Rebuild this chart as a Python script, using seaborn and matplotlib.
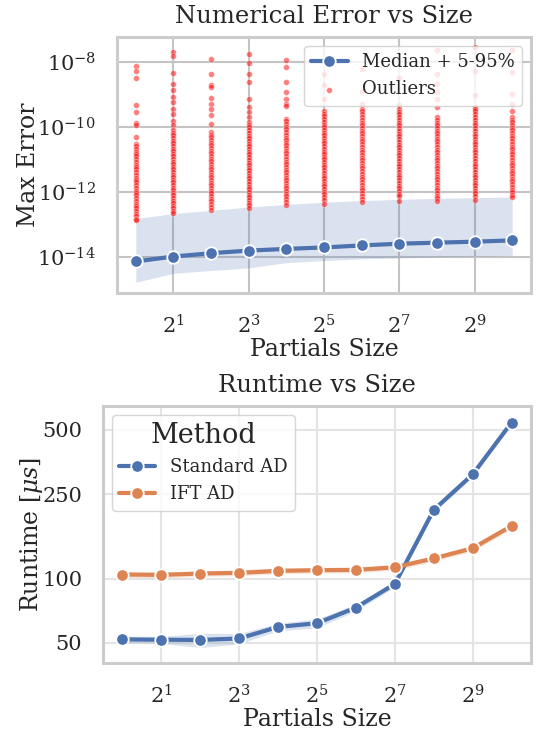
import numpy as np
import pandas as pd
import seaborn as sns
import matplotlib.pyplot as plt
from matplotlib.ticker import NullLocator, ScalarFormatter

# ------------------------------------------------------------
# Data
# ------------------------------------------------------------
sizes = [1, 2, 4, 8, 16, 32, 64, 128, 256, 512, 1024]

# numerical error: median and 5-95% band
err_median = [7.4e-15, 1.05e-14, 1.33e-14, 1.6e-14, 1.8e-14, 2.0e-14,
              2.3e-14, 2.6e-14, 2.8e-14, 3.0e-14, 3.3e-14]
err_p05 = [1.7e-15, 3.2e-15, 3.9e-15, 4.7e-15, 6.8e-15, 7.9e-15,
           8.9e-15, 9.5e-15, 1.02e-14, 1.07e-14, 1.12e-14]
err_p95 = [1.55e-13, 2.2e-13, 2.75e-13, 3.5e-13, 4.2e-13, 4.9e-13,
           5.5e-13, 6.0e-13, 6.5e-13, 6.8e-13, 7.1e-13]

# outliers, log10 of the error, one list per size
out_1 = [-8.12, -8.29, -8.48, -9.33, -9.54, -9.88, -9.95, -10.29,
         -10.51, -10.58, -10.66, -10.75, -10.83, -10.9, -10.98, -11.07, -11.15, -11.22,
         -11.3, -11.39, -11.47, -11.55, -11.62, -11.7, -11.79, -11.87, -11.95, -12.03,
         -12.1, -12.19, -12.27, -12.35, -12.43, -12.5, -12.58, -12.66, -12.74, -12.81, -12.87]
out_2 = [-7.69, -7.82, -8.33, -8.67, -8.85, -9.08, -9.23, -9.44, -9.59, -9.8, -9.95,
         -10.1, -10.17, -10.25, -10.34, -10.42, -10.5, -10.57, -10.66, -10.74, -10.82,
         -10.9, -10.97, -11.06, -11.14, -11.22, -11.3, -11.38, -11.46, -11.54, -11.62,
         -11.7, -11.78, -11.86, -11.94, -12.02, -12.1, -12.18, -12.26, -12.34, -12.42,
         -12.5, -12.58, -12.65]
out_4 = [-7.9, -8.36, -8.72, -8.77, -9.11, -9.28, -9.44, -9.64, -9.9,
         -10.15, -10.23, -10.31, -10.4, -10.48, -10.56, -10.64, -10.72, -10.81, -10.89,
         -10.97, -11.05, -11.13, -11.22, -11.3, -11.38, -11.46, -11.54, -11.63, -11.71,
         -11.79, -11.87, -11.95, -12.04, -12.12, -12.2, -12.28, -12.36, -12.45, -12.54]
out_8 = [-7.74, -8.03, -8.38, -8.62, -9.13, -9.38, -9.54, -9.69,
         -9.85, -9.93, -10.01, -10.1, -10.18, -10.26, -10.34, -10.43, -10.51, -10.59,
         -10.67, -10.76, -10.84, -10.92, -11.0, -11.09, -11.17, -11.25, -11.33, -11.42,
         -11.5, -11.58, -11.66, -11.75, -11.83, -11.91, -11.99, -12.08, -12.16, -12.24,
         -12.32, -12.4, -12.48]
out_16 = [-7.95, -8.15, -8.62, -8.92, -9.13, -9.28, -9.36,
          -9.74, -9.82, -9.9, -9.99, -10.07, -10.15, -10.23, -10.32, -10.4, -10.48,
          -10.56, -10.65, -10.73, -10.81, -10.89, -10.98, -11.06, -11.14, -11.22, -11.31,
          -11.39, -11.47, -11.55, -11.64, -11.72, -11.8, -11.88, -11.97, -12.05, -12.13,
          -12.21, -12.3, -12.41]
out_32 = [-8.36, -8.72, -9.13, -9.49,
          -9.59, -9.67, -9.76, -9.84, -9.92, -10.0, -10.09, -10.17, -10.25, -10.33,
          -10.42, -10.5, -10.58, -10.66, -10.75, -10.83, -10.91, -10.99, -11.08, -11.16,
          -11.24, -11.32, -11.41, -11.49, -11.57, -11.65, -11.74, -11.82, -11.9, -11.98,
          -12.07, -12.15, -12.23, -12.36]
out_64 = [-8.2, -8.9, -9.28,
          -9.44, -9.52, -9.61, -9.69, -9.77, -9.86, -9.94, -10.02, -10.11, -10.19,
          -10.27, -10.36, -10.44, -10.52, -10.61, -10.69, -10.77, -10.86, -10.94, -11.02,
          -11.11, -11.19, -11.27, -11.36, -11.44, -11.52, -11.61, -11.69, -11.77, -11.86,
          -11.94, -12.02, -12.11, -12.2, -12.31]
out_128 = [-8.5, -9.33,
           -9.44, -9.53, -9.61, -9.7, -9.78, -9.86, -9.95, -10.03, -10.12, -10.2,
           -10.28, -10.37, -10.45, -10.54, -10.62, -10.7, -10.79, -10.87, -10.96, -11.04,
           -11.12, -11.21, -11.29, -11.38, -11.46, -11.54, -11.63, -11.71, -11.8, -11.88,
           -11.96, -12.05, -12.13, -12.26]
out_256 = [-7.64, -8.36, -8.67, -8.92, -9.13, -9.38,
           -9.69, -9.77, -9.86, -9.94, -10.02, -10.11, -10.19, -10.27, -10.36, -10.44,
           -10.52, -10.61, -10.69, -10.77, -10.86, -10.94, -11.02, -11.11, -11.19, -11.27,
           -11.36, -11.44, -11.52, -11.61, -11.69, -11.77, -11.86, -11.94, -12.02, -12.11,
           -12.19, -12.26]
out_512 = [-7.54, -8.26, -9.02, -9.38,
           -9.44, -9.52, -9.61, -9.69, -9.78, -9.86, -9.94, -10.03, -10.11, -10.2,
           -10.28, -10.36, -10.45, -10.53, -10.62, -10.7, -10.78, -10.87, -10.95, -11.04,
           -11.12, -11.2, -11.29, -11.37, -11.46, -11.54, -11.62, -11.71, -11.79, -11.88,
           -11.96, -12.04, -12.13, -12.24]
out_1024 = [-7.64, -8.31, -8.97, -9.28, -9.49,
            -9.69, -9.77, -9.85, -9.94, -10.02, -10.1, -10.18, -10.27, -10.35, -10.43,
            -10.51, -10.6, -10.68, -10.76, -10.84, -10.93, -11.01, -11.09, -11.17, -11.26,
            -11.34, -11.42, -11.5, -11.59, -11.67, -11.75, -11.83, -11.92, -12.0, -12.08,
            -12.15]
outliers = [out_1, out_2, out_4, out_8, out_16, out_32, out_64, out_128,
            out_256, out_512, out_1024]

# runtime in microseconds, mean and CI band
std_ad = [51.9, 51.7, 51.6, 52.4, 59.4, 61.8, 73.2, 94.5, 210.6, 309.0, 542.0]
std_lo = [50.0, 49.8, 47.5, 49.5, 57.0, 58.8, 70.5, 91.5, 205.0, 301.0, 530.0]
std_hi = [53.8, 53.6, 55.5, 55.3, 61.8, 64.8, 76.0, 97.5, 216.0, 317.0, 555.0]
ift_ad = [104.7, 104.3, 105.8, 106.6, 108.9, 109.7, 110.0, 113.2, 124.6, 139.1, 177.0]
ift_lo = [101.5, 101.0, 102.5, 103.3, 105.5, 106.2, 106.6, 109.5, 120.5, 134.5, 171.5]
ift_hi = [108.0, 107.5, 109.0, 110.0, 112.3, 113.2, 113.5, 117.0, 128.5, 143.5, 182.5]

# ------------------------------------------------------------
# Tables for seaborn
# ------------------------------------------------------------
df_out = pd.DataFrame({
    "size": [s for s, vals in zip(sizes, outliers) for _ in vals],
    "error": [10.0 ** v for vals in outliers for v in vals],
})
df_rt = pd.DataFrame({
    "size": sizes + sizes,
    "runtime": std_ad + ift_ad,
    "Method": ["Standard AD"] * len(sizes) + ["IFT AD"] * len(sizes),
})

# ------------------------------------------------------------
# Style
# ------------------------------------------------------------
sns.set_theme(style="whitegrid")
plt.rcParams["font.family"] = ["DejaVu Serif"]
plt.rcParams["mathtext.fontset"] = "dejavuserif"
plt.rcParams["axes.edgecolor"] = "#cccccc"
plt.rcParams["axes.linewidth"] = 2.2

blue, orange = sns.color_palette()[0], sns.color_palette()[1]

fig, (ax1, ax2) = plt.subplots(2, 1, figsize=(5.39, 7.31), dpi=100)
ax1.set_position([117 / 539, 1 - 293 / 731, 414 / 539, 256 / 731])
ax2.set_position([103 / 539, 1 - 663 / 731, 428 / 539, 257 / 731])

# ------------------------------------------------------------
# 1. Numerical error
# ------------------------------------------------------------
ax1.fill_between(sizes, err_p05, err_p95, color=blue, alpha=0.2, linewidth=0)
sns.scatterplot(data=df_out, x="size", y="error", color="red", alpha=0.5,
                s=18, edgecolor="white", linewidth=0.5, label="Outliers", ax=ax1)
sns.lineplot(x=sizes, y=err_median, marker="o", markersize=9, linewidth=3,
             color=blue, markeredgecolor="white", markeredgewidth=1.3,
             label="Median + 5-95%", ax=ax1)
ax1.set_xscale("log", base=2)
ax1.set_yscale("log")
ax1.set_xlim(2 ** -0.5, 2 ** 10.5)
ax1.set_ylim(10 ** -15.1, 10 ** -7.23)
ax1.set_xticks([2, 8, 32, 128, 512])
ax1.set_yticks([1e-8, 1e-10, 1e-12, 1e-14])
ax1.xaxis.set_minor_locator(NullLocator())
ax1.yaxis.set_minor_locator(NullLocator())
ax1.grid(True, color="#c4c4c4", linewidth=1.5)
ax1.tick_params(labelsize=15, pad=9)
ax1.set_title("Numerical Error vs Size", fontsize=17.5, pad=10)
ax1.set_xlabel("Partials Size", fontsize=17, labelpad=1)
ax1.set_ylabel("Max Error", fontsize=17, labelpad=-2)
h, l = ax1.get_legend_handles_labels()
ax1.legend(h[::-1], l[::-1], loc="upper right", fontsize=13)

# ------------------------------------------------------------
# 2. Runtime
# ------------------------------------------------------------
ax2.fill_between(sizes, std_lo, std_hi, color=blue, alpha=0.2, linewidth=0)
ax2.fill_between(sizes, ift_lo, ift_hi, color=orange, alpha=0.2, linewidth=0)
sns.lineplot(data=df_rt, x="size", y="runtime", hue="Method", marker="o",
             markersize=9, linewidth=3, markeredgecolor="white",
             markeredgewidth=1.3, ax=ax2)
ax2.set_xscale("log", base=2)
ax2.set_yscale("log")
ax2.set_xlim(2 ** -0.5, 2 ** 10.5)
ax2.set_ylim(40.2, 648)
ax2.set_xticks([2, 8, 32, 128, 512])
ax2.set_yticks([50, 100, 250, 500])
ax2.yaxis.set_major_formatter(ScalarFormatter())
ax2.xaxis.set_minor_locator(NullLocator())
ax2.yaxis.set_minor_locator(NullLocator())
ax2.grid(True, color="#e4e4e4", linewidth=1.5)
ax2.tick_params(labelsize=15, pad=9)
ax2.set_title("Runtime vs Size", fontsize=17.5, pad=10)
ax2.set_xlabel("Partials Size", fontsize=17, labelpad=1)
ax2.set_ylabel(r"Runtime [$\mu s$]", fontsize=17, labelpad=-2)
ax2.legend(title="Method", loc="upper left", fontsize=13, title_fontsize=19.5)

fig.savefig("out.png", dpi=100)
